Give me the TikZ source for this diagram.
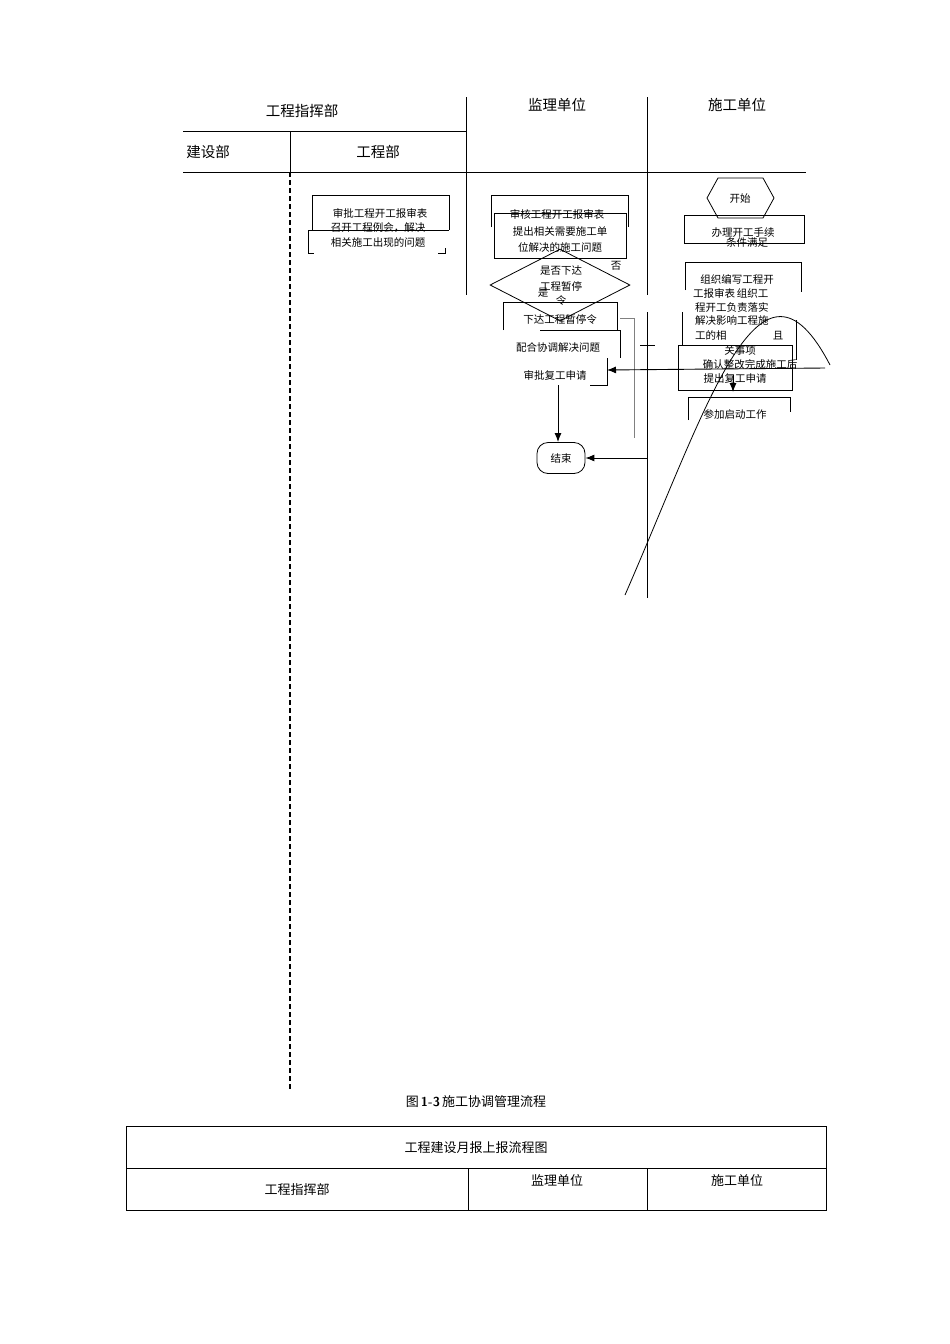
\documentclass[tikz,border=0pt]{standalone}
\usepackage{fontspec}
\setmainfont{Liberation Serif}
\newfontfamily\cjk{Noto Sans CJK SC}
\usetikzlibrary{shapes.geometric,arrows.meta}
\begin{document}
\begin{tikzpicture}[x=1pt,y=-1pt,
 lbl/.style={font=\cjk\fontsize{10.5}{12}\selectfont,inner sep=0pt},
 hdr/.style={font=\cjk\fontsize{14.5}{16}\selectfont,inner sep=0pt},
 ln/.style={line width=0.9pt},
 bx/.style={draw,line width=0.8pt},
 arr/.style={line width=0.9pt,-{Latex[length=9pt,width=7pt]}}]
\useasboundingbox (0,0) rectangle (950,1344);
% header lines
\draw[ln] (183,131) -- (466,131);
\draw[ln] (183,172) -- (806,172);
\draw[ln] (466,97) -- (466,295);
\draw[ln] (647,97) -- (647,295);
\draw[ln] (647,312) -- (647,598);
\draw[ln] (290,131) -- (290,172);
\draw[line width=1.8pt,dash pattern=on 5pt off 3pt] (290,172) -- (290,1090);
\node[hdr] (h1) at (302,111) {工程指挥部};
\node[hdr] (h2) at (208,152) {建设部};
\node[hdr] (h3) at (378,152) {工程部};
\node[hdr] (h4) at (557,105) {监理单位};
\node[hdr] (h5) at (737,105) {施工单位};
% left box
\draw[bx] (312,230) -- (312,195) -- (449,195) -- (449,230);
\draw[bx] (308,230) -- (308,253) -- (314,253);
\draw[bx] (445,248) -- (445,253) -- (438,253);
\draw[bx] (308,230) -- (449,230);
\node[lbl] (l1) at (380,213) {审批工程开工报审表};
\node[lbl] (l2) at (378,228) {召开工程例会，解决};
\node[lbl] (l3) at (378,243) {相关施工出现的问题};
% middle
\draw[bx] (491,227) -- (491,195) -- (628,195) -- (628,227);
\draw[bx] (494,213) rectangle (626,258);
\node[lbl] (m1) at (557,214) {审核工程开工报审表};
\node[lbl] (m2) at (560,232) {提出相关需要施工单};
\node[lbl] (m3) at (560,247) {位解决的施工问题};
\node[draw,diamond,line width=0.8pt,minimum width=140pt,minimum height=72pt,inner sep=0pt] (d) at (560,285) {};
\node[lbl] (d1) at (561,271) {是否下达};
\node[lbl] (d2) at (561,286) {工程暂停};
\node[lbl] (d3) at (561,301) {令};
\node[lbl] (no) at (616,266) {否};
\node[lbl] (yes) at (543,293) {是};
\draw[bx] (503,330) -- (503,302) -- (617,302) -- (617,330);
\node[lbl] (s1) at (560,320) {下达工程暂停令};
\draw[bx] (540,330) -- (620,330) -- (620,358);
\node[lbl] (s2) at (558,348) {配合协调解决问题};
\draw[bx] (607,358) -- (607,385) -- (590,385);
\node[lbl] (s3) at (555,375) {审批复工申请};
\node[draw,rounded corners=11pt,line width=0.8pt,minimum width=48pt,minimum height=31pt,inner sep=0pt,lbl] (end) at (561,458) {结束};
\coordinate (s3b) at (558,385);
\coordinate (endt) at (558,442);
\draw[arr] (s3b) -- (endt);
\draw[line width=0.6pt,gray] (620,318) -- (634,318) -- (634,438);
\draw[ln] (640,345) -- (655,345);
\coordinate (ea) at (647,458);
\draw[arr] (ea) -- (end.east);
% right
\draw[bx] (707,198) -- (718,178) -- (763,178) -- (774,198) -- (763,218) -- (718,218) -- cycle;
\node[lbl] (stl) at (740,199) {开始};
\draw[bx] (684,215) rectangle (804,243);
\node[lbl] (r1) at (743,233) {办理开工手续};
\node[lbl] (r2) at (747,242) {条件满足};
\draw[bx] (685,290) -- (685,262) -- (801,262) -- (801,292);
\draw[bx] (682,345) -- (682,312);
\draw[bx] (796,320) -- (796,360);
\node[lbl] (r3) at (737,279) {组织编写工程开};
\node[lbl,anchor=west] (r4) at (693,293) {工报审表\,组织工};
\node[lbl,anchor=west] (r5) at (695,307) {程开工负责落实};
\node[lbl,anchor=west] (r6) at (695,321) {解决影响工程施};
\node[lbl,anchor=west] (r7) at (695,335) {工的相};
\node[lbl] (r7b) at (778,336) {且};
\draw[bx] (678,345) rectangle (792,390);
\node[lbl] (r8) at (740,351) {关事项};
\node[lbl] (r9) at (750,364) {确认整改完成施工后};
\node[lbl] (r10) at (735,379) {提出复工申请};
\draw[bx] (688,420) -- (688,397) -- (790,397) -- (790,412);
\node[lbl] (r11) at (735,414) {参加启动工作};
\coordinate (ra) at (825,368);
\coordinate (rb) at (607,370);
\draw[arr] (ra) -- (rb);
\draw[arr] (733,375) -- (733,392);
\draw[line width=0.8pt] (625,595) .. controls (710,400) and (760,230) .. (830,365);
\node[font=\fontsize{13}{15}\selectfont,inner sep=0pt] (cap) at (476,1102) {{\cjk 图}\,\textbf{\sffamily 1-3}\,{\cjk 施工协调管理流程}};
% bottom table
\draw[line width=0.6pt] (126,1126) rectangle (826,1210);
\draw[line width=0.6pt] (126,1168) -- (826,1168);
\draw[line width=0.6pt] (468,1168) -- (468,1210);
\draw[line width=0.6pt] (647,1168) -- (647,1210);
\node[hdr,font=\cjk\fontsize{13}{15}\selectfont] (t1) at (476,1148) {工程建设月报上报流程图};
\node[hdr,font=\cjk\fontsize{13}{15}\selectfont] (t2) at (297,1190) {工程指挥部};
\node[hdr,font=\cjk\fontsize{13}{15}\selectfont] (t3) at (557,1180) {监理单位};
\node[hdr,font=\cjk\fontsize{13}{15}\selectfont] (t4) at (737,1180) {施工单位};
\end{tikzpicture}
\end{document}
